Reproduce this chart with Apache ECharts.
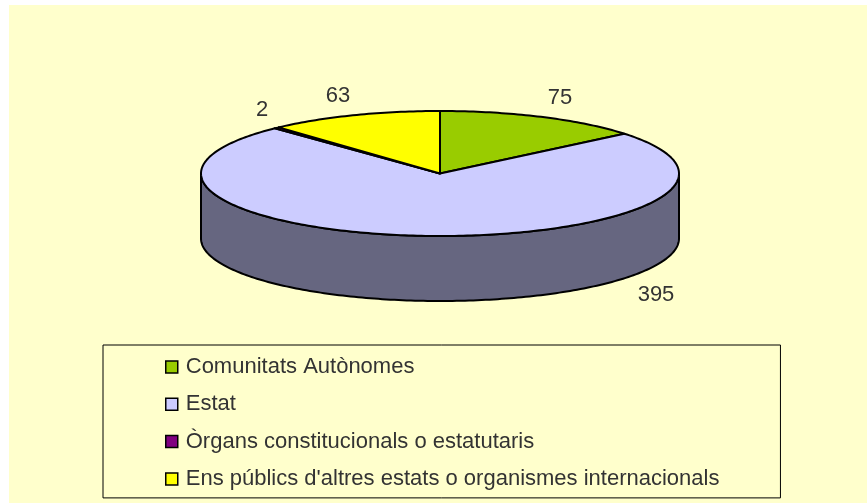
<!DOCTYPE html>
<html>
<head>
<meta charset="utf-8">
<title>Pie</title>
<script src="https://cdn.jsdelivr.net/npm/echarts@6/dist/echarts.min.js"></script>
<style>
    html, body { margin: 0; padding: 0; background: #fff; }
    #chart { width: 867px; height: 503px; }
</style>
</head>
<body>
<div id="chart"></div>
<script>
    var categories = ['Comunitats Autònomes', 'Estat', 'Òrgans constitucionals o estatutaris', "Ens públics d'altres estats o organismes internacionals"];
    var values = [75, 395, 2, 63];
    var colors = ['#99CC00', '#CCCCFF', '#800080', '#FFFF00'];
    var wallColors = ['#4D6600', '#666680', '#400040', '#808000'];
    // where each value label sits (Excel had moved them by hand)
    var labelSpots = [[560, 98], [656, 295], [262, 110], [338, 96]];

    var cx = 440, cy = 173.5, rx = 239, ry = 62.5, depth = 65;
    var textFont = '"Liberation Sans", sans-serif';
    var total = values.reduce(function (a, b) { return a + b; }, 0);

    function ellipsePoint(deg, drop) {
        var rad = deg * Math.PI / 180;
        return [cx + rx * Math.sin(rad), cy - ry * Math.cos(rad) + (drop || 0)];
    }

    function arcPoints(from, to, drop) {
        var pts = [];
        for (var a = from; a < to; a += 1) {
            pts.push(ellipsePoint(a, drop));
        }
        pts.push(ellipsePoint(to, drop));
        return pts;
    }

    function renderSlice(params, api) {
        var i = params.seriesIndex;
        var before = 0;
        for (var k = 0; k < i; k++) before += values[k];
        var start = before / total * 360;
        var end = start + api.value(0) / total * 360;
        var children = [];

        // wall only where the slice faces the viewer
        var wallFrom = Math.max(start, 90), wallTo = Math.min(end, 270);
        if (wallFrom < wallTo) {
            var top = arcPoints(wallFrom, wallTo, 0);
            var bottom = arcPoints(wallFrom, wallTo, depth).reverse();
            children.push({
                type: 'polygon',
                shape: { points: top.concat(bottom) },
                style: { fill: wallColors[i], stroke: '#000', lineWidth: 2 }
            });
        }
        children.push({
            type: 'polygon',
            shape: { points: [[cx, cy]].concat(arcPoints(start, end, 0)) },
            style: { fill: colors[i], stroke: '#000', lineWidth: 2, lineJoin: 'round' }
        });
        children.push({
            type: 'text',
            style: {
                x: labelSpots[i][0],
                y: labelSpots[i][1],
                text: String(api.value(0)),
                fill: '#333',
                fontFamily: textFont,
                fontSize: 22,
                align: 'center',
                verticalAlign: 'middle'
            }
        });
        return { type: 'group', children: children };
    }

    var chart = echarts.init(document.getElementById('chart'));
    chart.setOption({
        animation: false,
        tooltip: { show: false },
        graphic: [{
            type: 'rect',
            silent: true,
            z: -10,
            shape: { x: 9, y: 5, width: 858, height: 498 },
            style: { fill: '#FFFFCC' }
        }],
        legend: {
            left: 103,
            top: 345,
            orient: 'vertical',
            align: 'left',
            padding: [11, 61, 8, 62],
            itemGap: 15.3,
            itemWidth: 12,
            itemHeight: 12,
            icon: 'rect',
            borderColor: '#000',
            borderWidth: 1,
            selectedMode: false,
            itemStyle: { borderColor: '#000', borderWidth: 1.5 },
            textStyle: { color: '#333', fontFamily: textFont, fontSize: 22, padding: [0, 0, 0, 3] },
            data: categories
        },
        series: categories.map(function (name, i) {
            return {
                type: 'custom',
                name: name,
                coordinateSystem: 'none',
                itemStyle: { color: colors[i] },
                renderItem: renderSlice,
                silent: true,
                data: [values[i]]
            };
        })
    });
    window.addEventListener('resize', chart.resize);
</script>
</body>
</html>
